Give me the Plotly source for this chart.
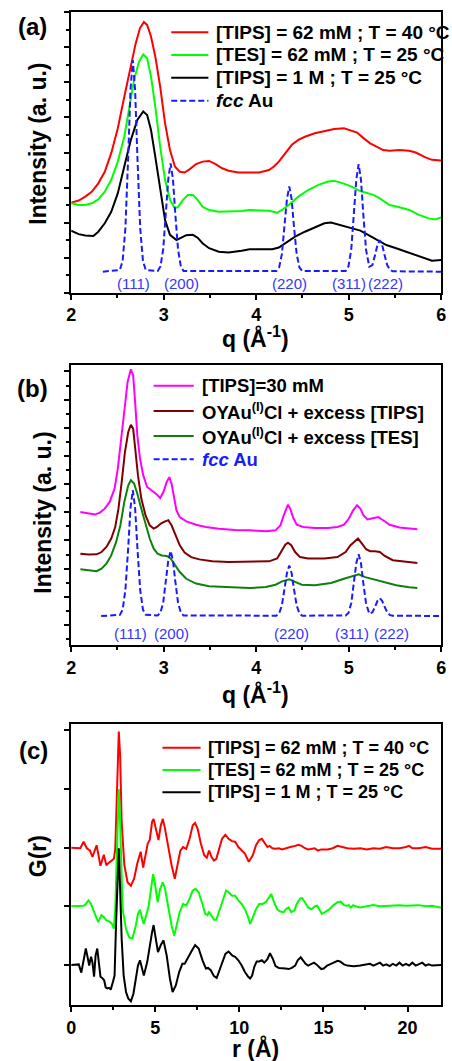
import plotly.graph_objects as go

# ---------------- Panel (a) : XRD, q in 1/A ----------------
A_RED_Q = [2.00, 2.081, 2.152, 2.222, 2.293, 2.363, 2.433, 2.504, 2.574, 2.645,
           2.698, 2.744, 2.786, 2.821, 2.863, 2.909, 2.962, 3.015, 3.068, 3.121,
           3.174, 3.226, 3.279, 3.350, 3.420, 3.491, 3.561, 3.632, 3.702,
           3.808, 3.914, 4.033, 4.139, 4.192, 4.245, 4.315, 4.386, 4.456, 4.527,
           4.633, 4.738, 4.844, 4.950, 5.020, 5.091, 5.161, 5.232, 5.302, 5.373,
           5.443, 5.549, 5.655, 5.725, 5.831, 5.901, 6.00]
A_RED_I = [2.57, 2.63, 2.74, 2.88, 3.12, 3.45, 3.98, 4.69, 5.59, 6.45,
           7.12, 7.55, 7.72, 7.64, 7.31, 6.74, 5.88, 4.83, 4.07, 3.60,
           3.45, 3.43, 3.52, 3.67, 3.74, 3.76, 3.67, 3.55, 3.48,
           3.43, 3.43, 3.43, 3.50, 3.60, 3.74, 3.98, 4.22, 4.36, 4.45,
           4.55, 4.62, 4.67, 4.69, 4.64, 4.57, 4.41, 4.26, 4.17, 4.07,
           4.05, 4.07, 4.05, 4.00, 3.86, 3.79, 3.77]

A_GREEN_Q = [2.00, 2.081, 2.152, 2.222, 2.293, 2.363, 2.433, 2.504, 2.574, 2.627,
             2.680, 2.733, 2.779, 2.821, 2.863, 2.909, 2.962, 3.015, 3.068, 3.121,
             3.156, 3.209, 3.262, 3.315, 3.367, 3.420, 3.491, 3.596, 3.702, 3.843,
             3.928, 4.033, 4.139, 4.227, 4.280, 4.351, 4.456, 4.562, 4.668, 4.774,
             4.844, 4.915, 5.020, 5.126, 5.196, 5.267, 5.337, 5.443, 5.549, 5.655,
             5.760, 5.866, 5.937, 6.00]
A_GREEN_I = [2.55, 2.50, 2.50, 2.55, 2.66, 2.88, 3.22, 3.74, 4.45, 5.21,
             6.07, 6.59, 6.80, 6.69, 6.17, 5.31, 4.17, 3.22, 2.65, 2.41,
             2.45, 2.65, 2.79, 2.79, 2.65, 2.45, 2.36, 2.31, 2.31, 2.33,
             2.36, 2.36, 2.34, 2.28, 2.36, 2.50, 2.74, 2.93, 3.07, 3.17,
             3.19, 3.14, 3.04, 2.90, 2.85, 2.79, 2.69, 2.50, 2.44, 2.36,
             2.22, 2.12, 2.09, 2.15]

A_BLACK_Q = [2.00, 2.081, 2.152, 2.240, 2.293, 2.363, 2.433, 2.504, 2.574, 2.645,
             2.715, 2.779, 2.821, 2.863, 2.909, 2.962, 3.015, 3.068, 3.138, 3.191,
             3.244, 3.315, 3.367, 3.420, 3.491, 3.596, 3.702, 3.843, 3.928, 4.069,
             4.174, 4.245, 4.315, 4.421, 4.527, 4.633, 4.738, 4.809, 4.915, 5.020,
             5.126, 5.196, 5.302, 5.408, 5.514, 5.619, 5.725, 5.831, 5.901, 6.00]
A_BLACK_I = [1.77, 1.67, 1.63, 1.62, 1.74, 1.98, 2.31, 2.84, 3.60, 4.36,
             4.93, 5.17, 5.07, 4.64, 3.88, 2.93, 2.07, 1.65, 1.50, 1.57,
             1.64, 1.65, 1.57, 1.41, 1.27, 1.17, 1.15, 1.20, 1.24, 1.24,
             1.24, 1.29, 1.41, 1.60, 1.74, 1.86, 1.98, 2.00, 1.93, 1.84,
             1.77, 1.67, 1.52, 1.36, 1.27, 1.17, 1.08, 0.98, 0.91, 0.93]

A_FCC_Q = [2.342, 2.526, 2.556, 2.586, 2.616, 2.641, 2.666, 2.691, 2.716, 2.746, 2.776, 2.806,
           2.935, 2.965, 2.995, 3.025, 3.050, 3.075, 3.100, 3.125, 3.155, 3.185, 3.215,
           4.218, 4.248, 4.278, 4.308, 4.333, 4.358, 4.383, 4.408, 4.438, 4.468, 4.498,
           4.968, 4.998, 5.028, 5.058, 5.083, 5.108, 5.133, 5.158, 5.188, 5.223,
           5.257, 5.287, 5.312, 5.337, 5.362, 5.387, 5.417, 5.447, 5.477, 6.0]
A_FCC_I = [0.60, 0.65, 0.90, 1.84, 3.86, 5.78, 6.64, 5.78, 3.86, 1.84, 0.90, 0.65,
           0.62, 0.75, 1.24, 2.27, 3.25, 3.69, 3.25, 2.27, 1.24, 0.75, 0.62,
           0.62, 0.72, 1.10, 1.91, 2.68, 3.03, 2.68, 1.91, 1.10, 0.72, 0.62,
           0.62, 0.75, 1.23, 2.26, 3.23, 3.67, 3.23, 2.26, 1.23, 0.74,
           0.79, 1.09, 1.37, 1.50, 1.37, 1.09, 0.79, 0.65, 0.61, 0.60]

HKL_LABELS = ["(111)", "(200)", "(220)", "(311)", "(222)"]
A_HKL_Q = [2.671, 3.196, 4.365, 5.008, 5.399]
A_HKL_I = 0.27

A_NAMES = ["[TIPS] = 62 mM ; T = 40 °C", "[TES] = 62 mM ; T = 25 °C",
           "[TIPS] = 1 M ; T = 25 °C", "<i>fcc</i> Au"]

# ---------------- Panel (b) ----------------
B_MAG_Q = [2.099, 2.187, 2.257, 2.310, 2.363, 2.416, 2.469, 2.504, 2.539, 2.574,
           2.610, 2.645, 2.670, 2.691, 2.715, 2.744, 2.779, 2.821, 2.874, 2.927,
           2.962, 2.997, 3.033, 3.061, 3.085, 3.110, 3.138, 3.174, 3.244, 3.350,
           3.456, 3.596, 3.773, 3.928, 4.104, 4.210, 4.263, 4.298, 4.322, 4.344,
           4.368, 4.404, 4.439, 4.509, 4.633, 4.774, 4.879, 4.950, 5.003, 5.048,
           5.091, 5.126, 5.161, 5.204, 5.249, 5.320, 5.373, 5.443, 5.549, 5.655,
           5.743]
B_MAG_I = [5.01, 4.95, 4.92, 4.99, 5.13, 5.37, 5.84, 6.55, 7.62, 8.68,
           9.63, 10.08, 9.86, 8.92, 7.73, 6.91, 6.31, 5.90, 5.78, 5.63,
           5.51, 5.72, 6.08, 6.25, 6.02, 5.49, 5.07, 4.83, 4.68, 4.56,
           4.48, 4.42, 4.37, 4.36, 4.33, 4.36, 4.54, 4.89, 5.13, 5.27,
           5.13, 4.78, 4.56, 4.48, 4.44, 4.44, 4.48, 4.56, 4.78, 5.07,
           5.25, 5.13, 4.89, 4.75, 4.78, 4.83, 4.72, 4.56, 4.46, 4.42,
           4.40]

B_DRED_Q = [2.099, 2.187, 2.275, 2.328, 2.381, 2.433, 2.476, 2.511, 2.546, 2.581,
            2.617, 2.645, 2.670, 2.698, 2.722, 2.758, 2.804, 2.849, 2.892, 2.927,
            2.969, 3.015, 3.050, 3.085, 3.131, 3.174, 3.226, 3.297, 3.385, 3.526,
            3.702, 3.928, 4.139, 4.227, 4.280, 4.315, 4.344, 4.379, 4.421, 4.474,
            4.562, 4.738, 4.879, 4.967, 5.020, 5.073, 5.101, 5.144, 5.189, 5.232,
            5.285, 5.337, 5.390, 5.478, 5.619, 5.743]
B_DRED_I = [3.53, 3.50, 3.51, 3.59, 3.77, 4.07, 4.48, 5.13, 6.08, 7.14,
            7.85, 8.11, 7.97, 7.14, 6.31, 5.49, 4.89, 4.54, 4.42, 4.48,
            4.60, 4.68, 4.72, 4.54, 4.18, 3.83, 3.57, 3.41, 3.33, 3.26,
            3.24, 3.26, 3.26, 3.36, 3.65, 3.85, 3.92, 3.83, 3.59, 3.41,
            3.36, 3.36, 3.41, 3.59, 3.83, 4.01, 4.07, 3.89, 3.69, 3.62,
            3.62, 3.59, 3.45, 3.30, 3.24, 3.20]

B_DGRN_Q = [2.099, 2.187, 2.275, 2.328, 2.381, 2.433, 2.486, 2.532, 2.574, 2.617,
            2.645, 2.680, 2.715, 2.758, 2.804, 2.849, 2.892, 2.934, 2.980, 3.033,
            3.075, 3.121, 3.174, 3.244, 3.350, 3.491, 3.702, 3.928, 4.104, 4.210,
            4.280, 4.358, 4.421, 4.492, 4.633, 4.809, 4.950, 5.056, 5.108, 5.179,
            5.267, 5.373, 5.514, 5.655, 5.743]
B_DGRN_I = [2.98, 2.94, 2.91, 3.00, 3.18, 3.47, 3.95, 4.54, 5.37, 5.96,
            6.14, 6.02, 5.66, 5.13, 4.54, 4.07, 3.71, 3.53, 3.47, 3.45,
            3.36, 3.12, 2.88, 2.64, 2.47, 2.38, 2.35, 2.31, 2.35, 2.43,
            2.55, 2.62, 2.53, 2.43, 2.41, 2.49, 2.64, 2.76, 2.80, 2.70,
            2.62, 2.53, 2.41, 2.34, 2.31]

B_FCC_Q = [2.324, 2.526, 2.556, 2.586, 2.616, 2.641, 2.666, 2.691, 2.716, 2.746, 2.776, 2.806,
           2.935, 2.965, 2.995, 3.025, 3.050, 3.075, 3.100, 3.125, 3.155, 3.185, 3.215,
           4.218, 4.248, 4.278, 4.308, 4.333, 4.358, 4.383, 4.408, 4.438, 4.468, 4.498,
           4.968, 4.998, 5.028, 5.058, 5.083, 5.108, 5.133, 5.158, 5.188, 5.223,
           5.257, 5.287, 5.312, 5.337, 5.362, 5.387, 5.417, 5.447, 5.477, 6.0]
B_FCC_I = [1.32, 1.36, 1.54, 2.24, 3.73, 5.15, 5.79, 5.15, 3.73, 2.24, 1.54, 1.36,
           1.34, 1.44, 1.80, 2.57, 3.30, 3.63, 3.30, 2.57, 1.80, 1.44, 1.34,
           1.33, 1.41, 1.69, 2.29, 2.85, 3.11, 2.85, 2.29, 1.69, 1.41, 1.33,
           1.34, 1.43, 1.77, 2.50, 3.20, 3.51, 3.20, 2.50, 1.77, 1.40,
           1.45, 1.66, 1.86, 1.95, 1.86, 1.66, 1.45, 1.35, 1.33, 1.32]

B_HKL_Q = [2.638, 3.089, 4.381, 5.041, 5.464]
B_HKL_I = 0.70

B_NAMES = ["[TIPS]=30 mM", "OYAu<sup>(I)</sup>Cl + excess [TIPS]",
           "OYAu<sup>(I)</sup>Cl + excess [TES]", "<i>fcc</i> Au"]

# ---------------- Panel (c) : PDF G(r) ----------------
C_RED_R = [0.0, 0.54, 0.74, 0.93, 1.12, 1.26, 1.51, 1.65, 1.74, 1.94,
           2.09, 2.19, 2.38, 2.54, 2.62, 2.71, 2.77, 2.83, 2.91, 3.00,
           3.16, 3.35, 3.55, 3.74, 3.93, 4.13, 4.28, 4.42, 4.55, 4.67,
           4.81, 4.90, 5.06, 5.19, 5.33, 5.45, 5.58, 5.78, 5.97, 6.16,
           6.36, 6.49, 6.65, 6.84, 7.04, 7.23, 7.37, 7.52, 7.71, 7.91,
           8.06, 8.20, 8.35, 8.49, 8.63, 8.78, 8.97, 9.17, 9.36, 9.56,
           9.75, 9.94, 10.14, 10.33, 10.56, 10.80, 10.99, 11.18, 11.34, 11.48,
           11.67, 11.80, 11.96, 12.15, 12.35, 12.54, 12.74, 13.03, 13.32, 13.51,
           13.70, 13.90, 14.09, 14.29, 14.48, 14.67, 14.87, 15.25, 15.55, 15.84,
           16.13, 16.42, 16.81, 17.19, 17.58, 17.97, 18.36, 18.74, 19.13, 19.52,
           19.91, 20.10, 20.29, 20.68, 21.07, 21.46, 21.94, 22.0]
C_RED_G = [0.0, -0.01, 0.10, -0.01, -0.05, -0.16, 0.04, -0.16, -0.31, -0.12,
           -0.30, -0.27, -0.22, -0.19, -0.02, 1.01, 1.57, 1.98, 1.57, 0.44,
           -0.30, -0.59, -0.65, -0.53, -0.27, -0.07, -0.34, -0.10, 0.07, 0.13,
           0.44, 0.49, 0.27, 0.13, 0.38, 0.49, 0.32, -0.02, -0.30, -0.53,
           -0.24, -0.05, 0.01, -0.02, 0.15, 0.38, 0.42, 0.32, 0.07, -0.13,
           -0.17, -0.05, -0.16, -0.22, -0.19, -0.02, 0.15, 0.22, 0.15, 0.11,
           0.10, 0.01, -0.05, -0.10, -0.24, -0.13, 0.04, 0.13, 0.15, 0.09,
           0.01, 0.03, -0.01, -0.02, -0.01, -0.03, -0.01, 0.01, 0.03, 0.05,
           0.03, -0.01, -0.03, -0.02, -0.01, -0.05, -0.03, -0.03, -0.01, 0.03,
           0.01, -0.01, -0.02, -0.01, -0.03, -0.01, -0.02, 0.01, -0.01, -0.01,
           0.01, 0.03, -0.01, -0.01, 0.01, -0.02, -0.02, -0.01]

C_GRN_R = [0.0, 0.54, 0.74, 0.87, 1.03, 1.18, 1.32, 1.45, 1.61, 1.80,
           1.96, 2.09, 2.29, 2.42, 2.54, 2.62, 2.71, 2.77, 2.83, 2.91,
           2.97, 3.06, 3.26, 3.45, 3.64, 3.84, 3.97, 4.09, 4.23, 4.32,
           4.48, 4.61, 4.75, 4.87, 5.00, 5.14, 5.29, 5.45, 5.58, 5.78,
           5.97, 6.13, 6.26, 6.45, 6.65, 6.84, 7.04, 7.23, 7.39, 7.58,
           7.77, 7.97, 8.10, 8.20, 8.35, 8.49, 8.63, 8.78, 8.97, 9.21,
           9.36, 9.56, 9.75, 9.94, 10.14, 10.33, 10.53, 10.64, 10.80, 10.99,
           11.18, 11.38, 11.57, 11.77, 11.90, 12.06, 12.25, 12.44, 12.64, 12.77,
           12.93, 13.08, 13.28, 13.41, 13.61, 13.74, 13.90, 14.09, 14.29, 14.48,
           14.63, 14.77, 14.91, 15.10, 15.35, 15.60, 15.84, 16.03, 16.13, 16.22,
           16.38, 16.51, 16.61, 16.77, 16.90, 17.19, 17.58, 17.97, 18.36, 18.74,
           19.13, 19.52, 19.91, 20.29, 20.68, 21.07, 21.46, 21.94, 22.0]
C_GRN_G = [0.0, 0.0, 0.01, 0.04, 0.10, 0.04, -0.05, -0.16, -0.27, -0.15,
           -0.19, -0.24, -0.26, -0.30, -0.38, -0.05, 0.86, 1.72, 2.00, 1.43,
           0.69, -0.05, -0.39, -0.53, -0.55, -0.33, -0.13, -0.06, -0.22, -0.30,
           -0.13, 0.01, 0.30, 0.55, 0.35, 0.07, 0.30, 0.41, 0.30, -0.05,
           -0.33, -0.50, -0.33, -0.10, 0.04, 0.01, 0.13, 0.27, 0.30, 0.24,
           0.07, -0.13, -0.15, -0.10, -0.16, -0.23, -0.23, -0.10, 0.07, 0.27,
           0.24, 0.18, 0.18, 0.10, 0.04, -0.05, -0.19, -0.30, -0.19, -0.05,
           0.04, 0.04, 0.07, 0.15, 0.21, 0.07, -0.05, -0.09, -0.10, -0.05,
           -0.02, -0.10, -0.07, 0.04, 0.13, 0.14, 0.07, -0.02, -0.05, 0.00,
           0.01, -0.05, -0.13, -0.10, -0.05, 0.02, 0.07, 0.08, 0.04, 0.02,
           0.01, 0.02, -0.02, 0.02, 0.00, -0.02, 0.00, 0.02, 0.00, 0.01,
           0.01, 0.02, 0.01, 0.02, 0.02, 0.00, 0.01, -0.02, -0.02]

C_BLK_R = [0.0, 0.45, 0.60, 0.74, 0.87, 0.99, 1.07, 1.18, 1.26, 1.36,
           1.45, 1.55, 1.65, 1.74, 1.84, 1.96, 2.05, 2.15, 2.25, 2.35,
           2.48, 2.58, 2.67, 2.77, 2.83, 2.91, 3.00, 3.12, 3.26, 3.39,
           3.55, 3.70, 3.84, 3.97, 4.09, 4.23, 4.32, 4.52, 4.67, 4.81,
           4.90, 5.04, 5.16, 5.33, 5.49, 5.68, 5.87, 6.03, 6.22, 6.42,
           6.61, 6.75, 6.94, 7.13, 7.37, 7.58, 7.81, 8.01, 8.14, 8.30,
           8.49, 8.65, 8.78, 8.97, 9.17, 9.36, 9.59, 9.75, 9.94, 10.14,
           10.33, 10.53, 10.64, 10.76, 10.89, 11.03, 11.18, 11.34, 11.48, 11.67,
           11.82, 12.00, 12.15, 12.35, 12.54, 12.74, 12.93, 13.12, 13.32, 13.47,
           13.65, 13.80, 13.94, 14.09, 14.25, 14.44, 14.58, 14.71, 14.87, 15.02,
           15.22, 15.45, 15.68, 15.84, 15.99, 16.22, 16.42, 16.81, 17.19, 17.58,
           17.77, 17.97, 18.16, 18.36, 18.55, 18.74, 18.94, 19.13, 19.33, 19.52,
           19.71, 19.91, 20.10, 20.29, 20.49, 20.68, 20.88, 21.07, 21.26, 21.46,
           21.94, 22.0]
C_BLK_G = [0.0, 0.01, -0.13, 0.11, 0.28, 0.11, -0.01, 0.14, 0.05, -0.20,
           0.16, 0.28, 0.05, -0.20, -0.22, -0.26, -0.38, -0.40, -0.39, -0.42,
           -0.29, -0.18, 0.73, 1.59, 1.99, 1.30, 0.45, -0.18, -0.46, -0.57,
           -0.62, -0.49, -0.23, -0.01, 0.08, -0.06, -0.18, 0.05, 0.34, 0.56,
           0.68, 0.45, 0.22, 0.34, 0.42, 0.16, -0.23, -0.46, -0.35, -0.12,
           0.02, 0.02, 0.11, 0.22, 0.34, 0.28, 0.08, -0.06, -0.05, -0.09,
           -0.19, -0.22, -0.12, 0.05, 0.19, 0.23, 0.16, 0.14, 0.08, -0.01,
           -0.12, -0.20, -0.23, -0.18, -0.03, 0.06, 0.06, 0.08, 0.04, 0.10,
           0.20, 0.10, -0.02, -0.05, -0.05, -0.06, -0.07, -0.05, -0.01, 0.08,
           0.13, 0.08, 0.02, -0.01, 0.01, 0.04, 0.01, -0.03, -0.07, -0.06,
           -0.01, 0.02, 0.05, 0.07, 0.06, 0.01, -0.01, -0.02, -0.01, 0.01,
           0.02, -0.01, 0.01, 0.04, -0.01, 0.01, -0.02, 0.02, -0.01, 0.04,
           -0.01, 0.02, -0.01, 0.04, -0.01, 0.02, 0.04, -0.01, 0.01, -0.01,
           0.01, 0.0]

C_OFFSETS = [2.0, 1.0, 0.0]   # vertical stacking of the three G(r) curves
C_NAMES = A_NAMES[:3]

# ---------------- figure ----------------
W, H = 452, 1061
FONT = "Liberation Sans, Arial, sans-serif"
BLUE = "#1a1aff"
LBLUE = "#3535ff"
DASH = "6px,3px"

fig = go.Figure()


def line(x, y, color, xa, ya, dash=None, width=2):
    fig.add_trace(go.Scatter(x=x, y=y, mode="lines", xaxis=xa, yaxis=ya,
                             line=dict(color=color, width=width, dash=dash),
                             showlegend=False, hoverinfo="skip"))


line(A_RED_Q, A_RED_I, "#ff0000", "x", "y")
line(A_GREEN_Q, A_GREEN_I, "#00ff00", "x", "y")
line(A_BLACK_Q, A_BLACK_I, "#000000", "x", "y")
line(A_FCC_Q, A_FCC_I, BLUE, "x", "y", dash=DASH)

line(B_MAG_Q, B_MAG_I, "#ff00ff", "x2", "y2")
line(B_DRED_Q, B_DRED_I, "#800000", "x2", "y2")
line(B_DGRN_Q, B_DGRN_I, "#0d800d", "x2", "y2")
line(B_FCC_Q, B_FCC_I, BLUE, "x2", "y2", dash=DASH)

for r, g, off, col in [(C_RED_R, C_RED_G, C_OFFSETS[0], "#ff0000"),
                       (C_GRN_R, C_GRN_G, C_OFFSETS[1], "#00ff00"),
                       (C_BLK_R, C_BLK_G, C_OFFSETS[2], "#000000")]:
    line(r, [v + off for v in g], col, "x3", "y3")


def px(xp):
    return xp / W


def py(yp):
    return 1 - yp / H


XDOM = [px(67.7), px(446)]
frame = dict(showline=True, linecolor="black", linewidth=2, mirror=True,
             showgrid=False, zeroline=False, ticks="outside", ticklen=5,
             tickwidth=2, tickcolor="black")
tickfont = dict(family=FONT, size=18, color="black", weight="bold")

fig.update_layout(
    width=W, height=H, margin=dict(l=0, r=0, t=0, b=0),
    paper_bgcolor="white", plot_bgcolor="white", showlegend=False,
    xaxis=dict(domain=XDOM, anchor="y", range=[2, 6], tick0=2, dtick=1,
               tickfont=tickfont,
               minor=dict(ticks="outside", ticklen=3, tickwidth=1.5, dtick=0.5, tick0=2),
               **frame),
    yaxis=dict(domain=[py(292.7), py(12.3)], anchor="x", range=[0, 8], tick0=0, dtick=1,
               showticklabels=False,
               minor=dict(ticks="outside", ticklen=3, tickwidth=1.5, dtick=0.5, tick0=0),
               **frame),
    xaxis2=dict(domain=XDOM, anchor="y2", range=[2, 6], tick0=2, dtick=1,
                tickfont=tickfont,
                minor=dict(ticks="outside", ticklen=3, tickwidth=1.5, dtick=0.5, tick0=2),
                **frame),
    yaxis2=dict(domain=[py(645), py(365)], anchor="x2", range=[0.29, 10.23], tick0=1, dtick=1,
                showticklabels=False,
                minor=dict(ticks="outside", ticklen=3, tickwidth=1.5, dtick=0.5, tick0=1),
                **frame),
    xaxis3=dict(domain=XDOM, anchor="y3", range=[0, 22], tick0=0, dtick=5,
                tickfont=tickfont,
                minor=dict(ticks="outside", ticklen=3, tickwidth=1.5, dtick=2.5, tick0=0),
                **frame),
    yaxis3=dict(domain=[py(1005), py(724.3)], anchor="x3", range=[-0.682, 4.102],
                tick0=0, dtick=1, showticklabels=False, **frame),
)

ann = []
shapes = []


def text(x, y, s, size, color="black", bold=True, angle=0, xanchor="center",
         xref="paper", yref="paper"):
    ann.append(dict(x=x, y=y, xref=xref, yref=yref, text=s, showarrow=False,
                    xanchor=xanchor, yanchor="middle", textangle=angle,
                    font=dict(family=FONT, size=size, color=color,
                              weight="bold" if bold else "normal")))


# panel labels
text(px(28), py(27), "(a)", 24)
text(px(28), py(388), "(b)", 24)
text(px(29), py(750), "(c)", 24)
# axis titles
text(px(33.5), py(144), "Intensity (a. u.)", 23, angle=-90)
text(px(38.5), py(513), "Intensity (a. u.)", 23, angle=-90)
text(px(34), py(856), "G(r)", 23, angle=-90)
text(px(256), py(337), "q (Å<sup>-1</sup>)", 23)
text(px(256), py(693), "q (Å<sup>-1</sup>)", 23)
text(px(256), py(1048), "r (Å)", 23)

# reflection labels
for lab, q in zip(HKL_LABELS, A_HKL_Q):
    text(q, A_HKL_I, lab, 15, color=LBLUE, bold=False, xref="x", yref="y")
for lab, q in zip(HKL_LABELS, B_HKL_Q):
    text(q, B_HKL_I, lab, 15, color=LBLUE, bold=False, xref="x2", yref="y2")


# keys
def key(x0, x1, xt, rows, names, colors, dashes, textcolors, size):
    for yr, nm, col, dsh, tc in zip(rows, names, colors, dashes, textcolors):
        shapes.append(dict(type="line", xref="paper", yref="paper",
                           x0=px(x0), x1=px(x1), y0=py(yr), y1=py(yr),
                           line=dict(color=col, width=2, dash=dsh)))
        text(px(xt), py(yr), nm, size, color=tc, xanchor="left")


key(170, 208, 214, [32.3, 55, 77.7, 100.7], A_NAMES,
    ["#ff0000", "#00ff00", "#000000", BLUE], [None, None, None, DASH],
    ["black"] * 4, 19)
key(152, 193, 199, [385.7, 411, 436, 459.3], B_NAMES,
    ["#ff00ff", "#800000", "#0d800d", BLUE], [None, None, None, DASH],
    ["black", "black", "black", BLUE], 18.5)
key(161, 200, 206, [747.7, 770, 792.3], C_NAMES,
    ["#ff0000", "#00ff00", "#000000"], [None, None, None],
    ["black"] * 3, 18)

fig.update_layout(annotations=ann, shapes=shapes)
fig.write_html("out.html")
